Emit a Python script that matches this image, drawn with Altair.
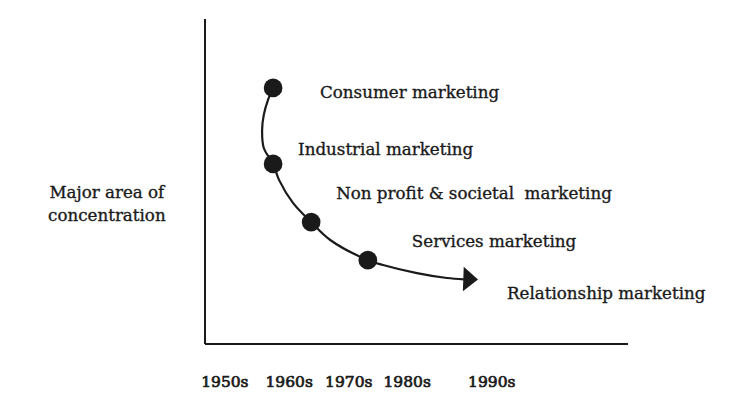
import altair as alt
import pandas as pd

# Conceptual coordinates: x axis runs 0..100, y axis runs 0..100
stage_labels = ["Consumer marketing", "Industrial marketing",
                "Non profit & societal\u00a0 marketing", "Services marketing",
                "Relationship marketing"]
stage_x = [16.1, 16.1, 25.1, 38.5]
stage_y = [78.8, 55.4, 37.5, 25.8]
label_x = [27.2, 22.0, 31.0, 48.9, 71.4]
label_y = [77.2, 59.7, 46.2, 31.4, 15.4]

curve_x = [16.1, 14.9, 13.9, 13.5, 13.9, 16.1, 17.5, 20.8, 25.1, 29.6, 38.5, 42.1, 50.1, 57.2, 61.2]
curve_y = [78.8, 75.1, 70.5, 65.8, 60.3, 55.4, 50.5, 43.4, 37.5, 32.0, 25.8, 24.3, 21.8, 20.3, 19.9]
arrow_x = [62.8]
arrow_y = [19.9]

decades = ["1950s", "1960s", "1970s", "1980s", "1990s"]
decade_x = [4.7, 19.9, 34.0, 47.8, 67.8]
decade_y = -11.7

ylabel_lines = ["Major area of", "concentration"]
ylabel_x = -23.2
ylabel_y = [46.5, 39.4]

FONT = "DejaVu Serif"
INK = "#1a1a1a"

xs = alt.Scale(domain=[-46.57, 122.93], nice=False, zero=False)
ys = alt.Scale(domain=[-14.77, 103.38], nice=False, zero=False)
X = lambda f: alt.X(f, type="quantitative", scale=xs, axis=None)
Y = lambda f: alt.Y(f, type="quantitative", scale=ys, axis=None)

axes_df = pd.DataFrame({"x": [0, 0], "x2": [0, 100], "y": [0, 0], "y2": [100, 0]})
axes = alt.Chart(axes_df).mark_rule(color=INK, strokeWidth=2).encode(
    x=X("x"), x2="x2", y=Y("y"), y2="y2")

curve_df = pd.DataFrame({"x": curve_x, "y": curve_y, "o": list(range(len(curve_x)))})
curve = alt.Chart(curve_df).mark_line(color=INK, strokeWidth=2.2, interpolate="catmull-rom").encode(
    x=X("x"), y=Y("y"), order="o:Q")

arrow = alt.Chart(pd.DataFrame({"x": arrow_x, "y": arrow_y})).mark_point(
    shape="M -0.6 -1 L 0.6 0 L -0.6 1 Z", size=600, filled=True, color=INK, opacity=1, angle=2
).encode(x=X("x"), y=Y("y"))

pts = alt.Chart(pd.DataFrame({"x": stage_x, "y": stage_y})).mark_circle(
    size=350, color=INK, opacity=1).encode(x=X("x"), y=Y("y"))

labels = alt.Chart(pd.DataFrame({"x": label_x, "y": label_y, "t": stage_labels})).mark_text(
    align="left", baseline="middle", font=FONT, fontSize=16.7, color=INK,
    stroke=INK, strokeWidth=0.35).encode(
    x=X("x"), y=Y("y"), text="t:N")

ticks = alt.Chart(pd.DataFrame({"x": decade_x, "y": [decade_y] * 5, "t": decades})).mark_text(
    align="center", baseline="middle", font=FONT, fontSize=15.5, color=INK,
    stroke=INK, strokeWidth=0.7).encode(
    x=X("x"), y=Y("y"), text="t:N")

ylab = alt.Chart(pd.DataFrame({"x": [ylabel_x] * 2, "y": ylabel_y, "t": ylabel_lines})).mark_text(
    align="center", baseline="middle", font=FONT, fontSize=16.7, color=INK,
    stroke=INK, strokeWidth=0.35).encode(
    x=X("x"), y=Y("y"), text="t:N")

chart = alt.layer(axes, curve, arrow, pts, labels, ticks, ylab).properties(
    width=717, height=384, padding=0, autosize="none", background="white"
).configure_view(stroke=None)

chart.save("out.html", embed_options={"renderer": "svg", "actions": False})
